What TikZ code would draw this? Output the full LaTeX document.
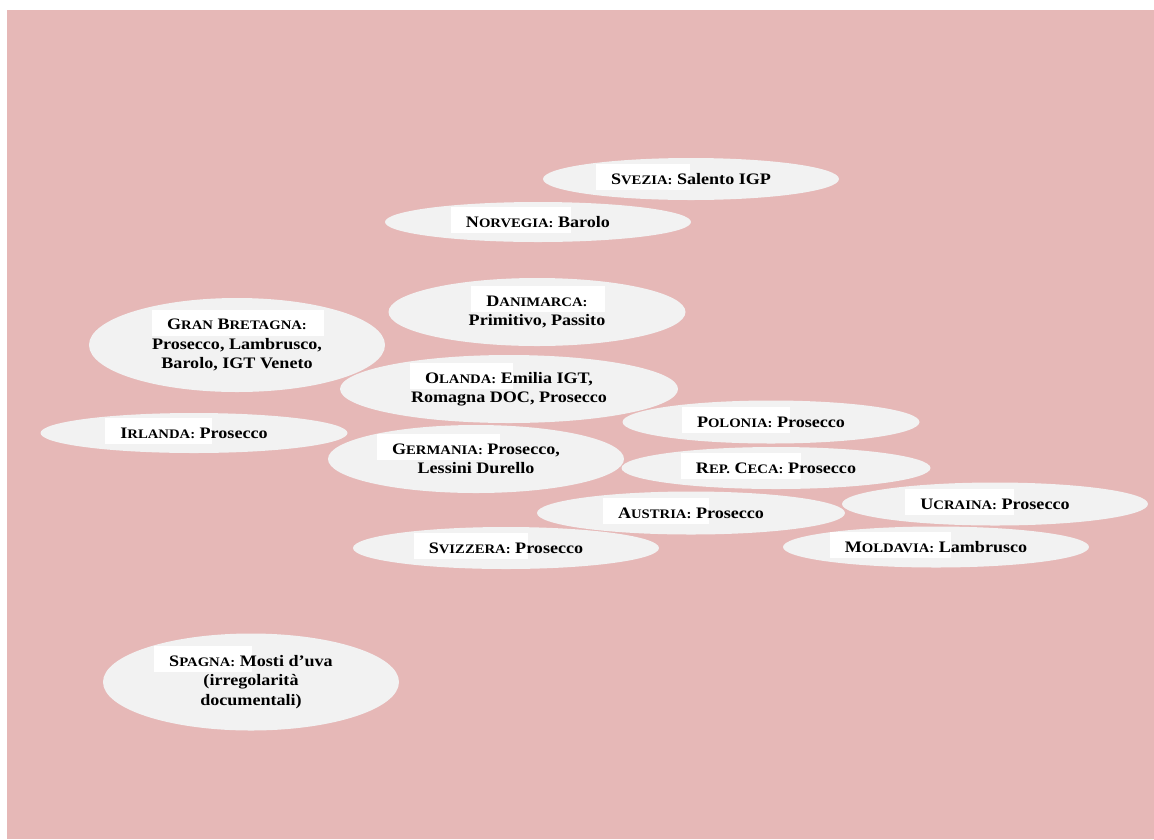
\documentclass[tikz,border=0pt]{standalone}
\usepackage{fontspec}
\setmainfont{Liberation Serif}[FakeStretch=1.13]
\usetikzlibrary{shapes.geometric}
\definecolor{bgpink}{HTML}{E6B8B7}
\definecolor{ellgray}{HTML}{F2F2F2}
\newcommand\smc[1]{{\fontsize{13}{13}\selectfont #1}}
\newsavebox\ctybox
\newcommand\cty[1]{\sbox\ctybox{#1}\rlap{\kern-15pt\smash{\setlength{\fboxsep}{0pt}\colorbox{white}{\rule[-6pt]{0pt}{26pt}\kern\wd\ctybox\kern32pt}}}\usebox\ctybox\ }
\tikzset{
  ell/.style={ellipse, fill=ellgray, inner sep=0pt, align=center,
    font=\bfseries\fontsize{16}{19.5}\selectfont, text=black}
}
\begin{document}
\begin{tikzpicture}[x=1pt,y=-1pt]
\useasboundingbox (0,0) rectangle (1154,839);
\fill[bgpink] (7,10) rectangle (1154,839);
\node[ell, minimum width=296, minimum height=42] (svezia) at (691,179) {\cty{S\smc{VEZIA:}}Salento IGP};
\node[ell, minimum width=306, minimum height=40] (norvegia) at (538,222) {\cty{N\smc{ORVEGIA:}}Barolo};
\node[ell, minimum width=297, minimum height=68] (danimarca) at (537,312) {\cty{D\smc{ANIMARCA:}}\\Primitivo, Passito};
\node[ell, minimum width=296, minimum height=94] (granbretagna) at (237,345) {\cty{G\smc{RAN} B\smc{RETAGNA:}}\\Prosecco, Lambrusco,\\Barolo, IGT Veneto};
\node[ell, minimum width=338, minimum height=68] (olanda) at (509,389) {\cty{O\smc{LANDA:}}Emilia IGT,\\Romagna DOC, Prosecco};
\node[ell, minimum width=307, minimum height=40] (irlanda) at (194,433) {\cty{I\smc{RLANDA:}}Prosecco};
\node[ell, minimum width=296, minimum height=68] (germania) at (476,459) {\cty{G\smc{ERMANIA:}}Prosecco,\\Lessini Durello};
\node[ell, minimum width=297, minimum height=43] (polonia) at (771,422) {\cty{P\smc{OLONIA:}}Prosecco};
\node[ell, minimum width=309, minimum height=42] (repceca) at (776,468) {\cty{R\smc{EP.} C\smc{ECA:}}Prosecco};
\node[ell, minimum width=308, minimum height=43] (austria) at (691,513) {\cty{A\smc{USTRIA:}}Prosecco};
\node[ell, minimum width=306, minimum height=43] (ucraina) at (995,504) {\cty{U\smc{CRAINA:}}Prosecco};
\node[ell, minimum width=306, minimum height=41] (moldavia) at (936,547) {\cty{M\smc{OLDAVIA:}}Lambrusco};
\node[ell, minimum width=306, minimum height=42] (svizzera) at (506,548) {\cty{S\smc{VIZZERA:}}Prosecco};
\node[ell, minimum width=296, minimum height=97] (spagna) at (251,682) {\cty{S\smc{PAGNA:}}Mosti d’uva\\(irregolarità\\documentali)};
\end{tikzpicture}
\end{document}
